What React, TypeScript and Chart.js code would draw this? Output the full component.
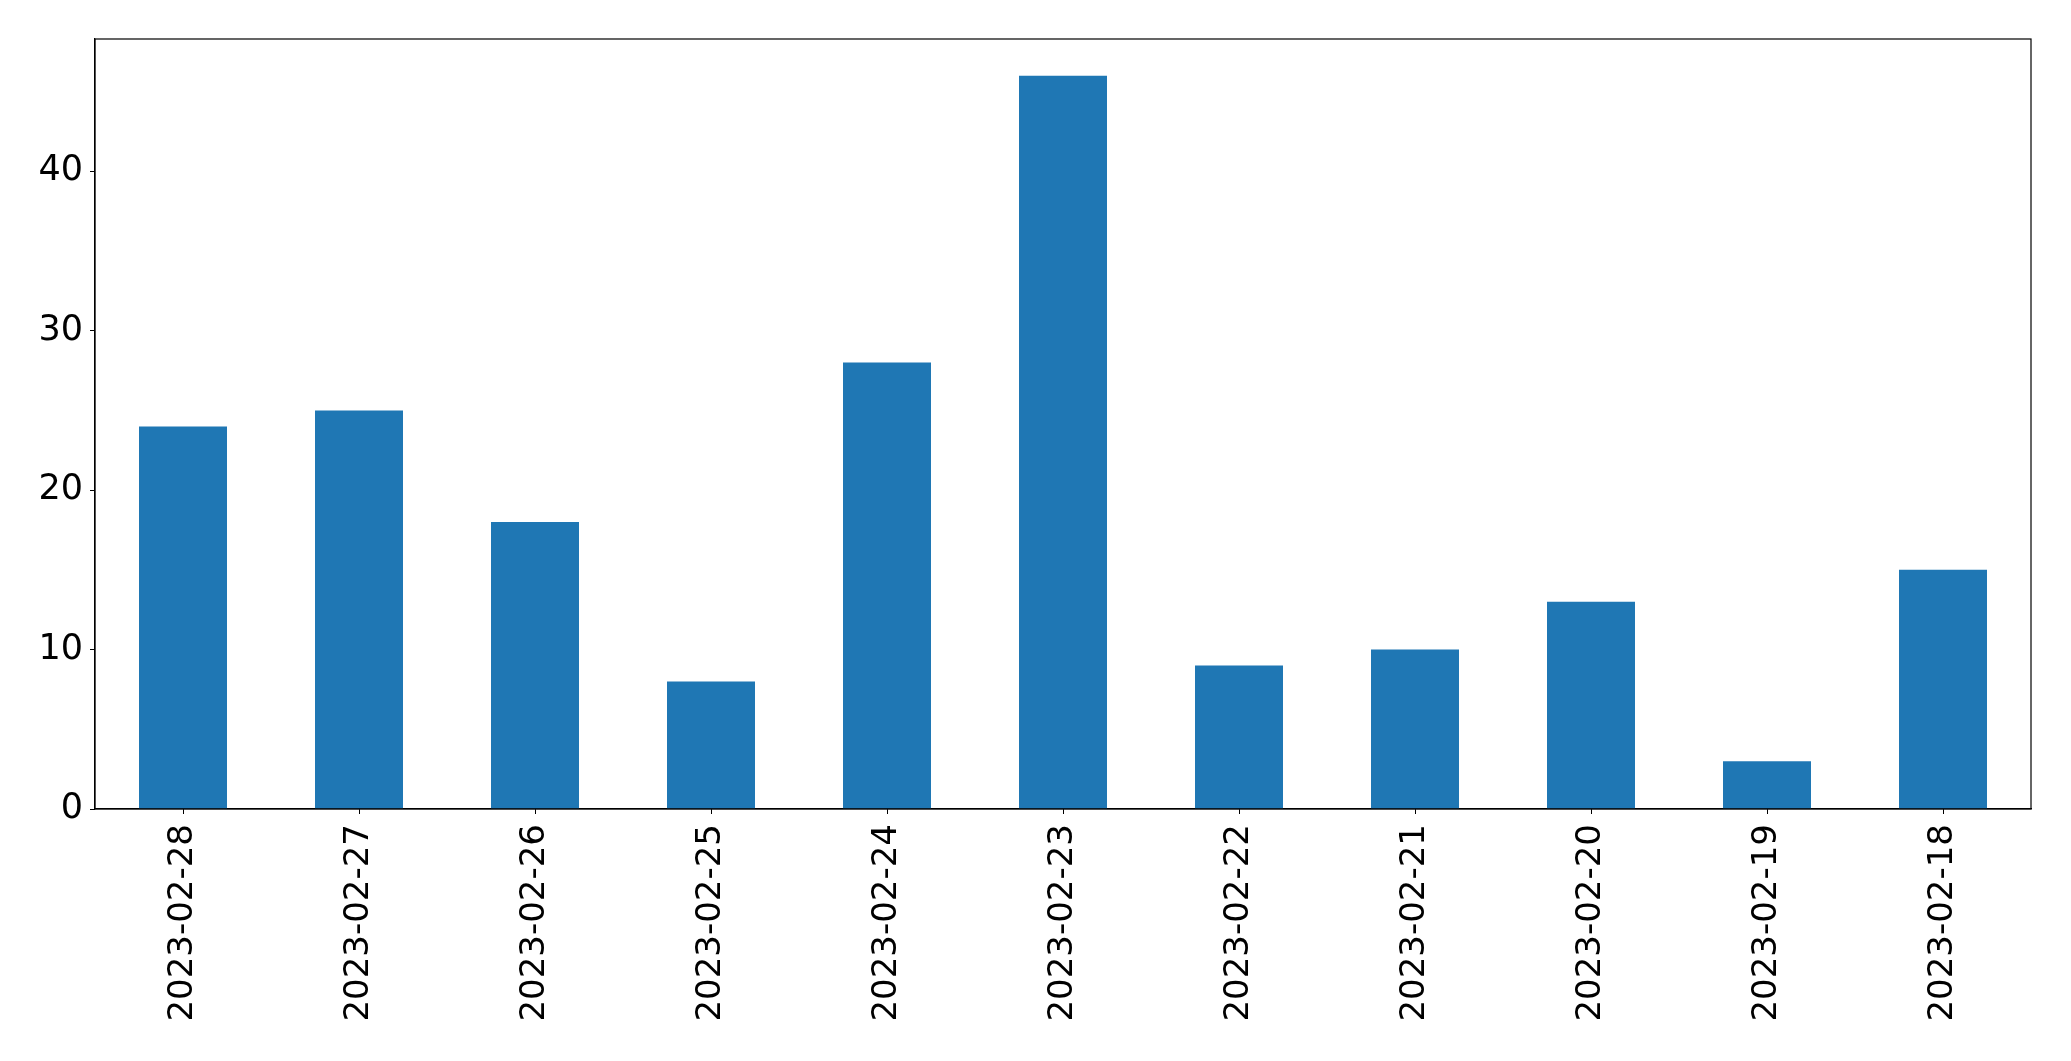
import React, { useEffect, useRef } from "react";
import { Chart, registerables } from "chart.js";

Chart.register(...registerables);

const categories = [
  "2023-02-28", "2023-02-27", "2023-02-26", "2023-02-25", "2023-02-24", "2023-02-23",
  "2023-02-22", "2023-02-21", "2023-02-20", "2023-02-19", "2023-02-18",
];
const values = [24, 25, 18, 8, 28, 46, 9, 10, 13, 3, 15];
const yTicks = [0, 10, 20, 30, 40];
const yMax = 48.3;

const framePlugin = {
  id: "frame",
  afterDraw(chart: any) {
    const { ctx, chartArea } = chart;
    ctx.save();
    ctx.strokeStyle = "#000";
    ctx.lineWidth = 1.2;
    ctx.strokeRect(chartArea.left, chartArea.top, chartArea.right - chartArea.left, chartArea.bottom - chartArea.top);
    ctx.restore();
  },
};

export default function App() {
  const ref = useRef<HTMLCanvasElement>(null);
  useEffect(() => {
    if (!ref.current) return;
    const chart = new Chart(ref.current, {
      type: "bar",
      data: {
        labels: categories,
        datasets: [{ data: values, backgroundColor: "#1f77b4", barPercentage: 0.5, categoryPercentage: 1 }],
      },
      options: {
        animation: false,
        responsive: false,
        maintainAspectRatio: false,
        layout: { padding: { top: 39, right: 40, left: 0, bottom: 0 } },
        plugins: { legend: { display: false }, tooltip: { enabled: false } },
        scales: {
          x: {
            grid: { display: true, offset: false, drawOnChartArea: false, drawTicks: true, tickLength: 5, color: "#000" },
            border: { display: true, color: "#000", width: 1.2 },
            ticks: { color: "#000", font: { family: "DejaVu Sans", size: 34 }, minRotation: 90, maxRotation: 90, padding: 10, autoSkip: false },
            afterFit: (s: any) => { s.height = 252; },
          },
          y: {
            min: 0,
            max: yMax,
            grid: { display: true, drawOnChartArea: false, drawTicks: true, tickLength: 5, color: "#000" },
            border: { display: true, color: "#000", width: 1.2 },
            ticks: { color: "#000", font: { family: "DejaVu Sans", size: 35 }, padding: 7 },
            afterBuildTicks: (s: any) => { s.ticks = yTicks.map((v) => ({ value: v })); },
            afterFit: (s: any) => { s.width = 95; },
          },
        },
      },
      plugins: [framePlugin],
    });
    return () => chart.destroy();
  }, []);
  return (
    <div style={{ position: "fixed", left: 0, top: 0, width: 2071, height: 1061, background: "#fff" }}>
      <canvas ref={ref} width={2071} height={1061} style={{ width: 2071, height: 1061 }} />
    </div>
  );
}
